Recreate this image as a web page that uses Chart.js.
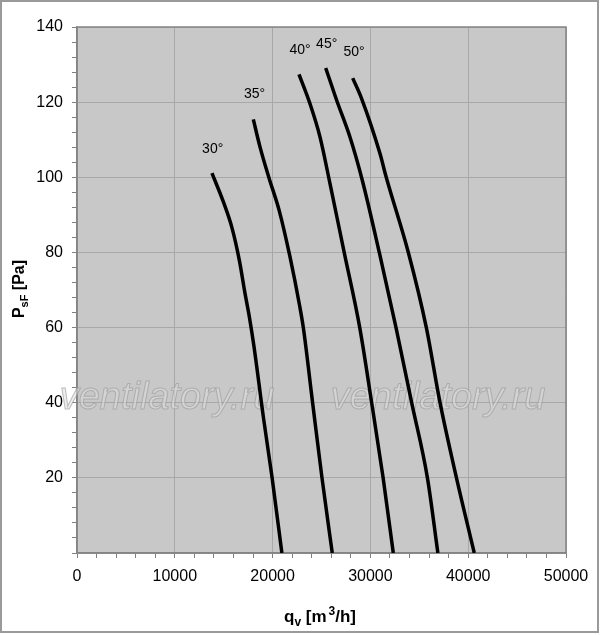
<!DOCTYPE html>
<html>
<head>
<meta charset="utf-8">
<script src="https://cdn.jsdelivr.net/npm/chart.js@4.4.0/dist/chart.umd.min.js"></script>
<style>
html, body { margin: 0; padding: 0; background: #fff; }
</style>
</head>
<body>
<canvas id="fanChart" width="600" height="635"></canvas>
<script>
// blade angle curves: qv [m3/h] vs PsF [Pa]
var angles = ['30°', '35°', '40°', '45°', '50°'];

var q30 = [13800, 14960, 15820, 16600, 17180, 17620, 18100, 19050, 19950, 20950];
var p30 = [101.1, 93.5, 86.8, 77.9, 69.1, 62.9, 54.9, 36.3, 20, 0];

var q35 = [18030, 18710, 19600, 20670, 21780, 22750, 23140, 24090, 25050, 26100];
var p35 = [115.4, 108.1, 100.1, 91.2, 78.8, 66, 60, 40, 20, 0];

var q40 = [22700, 23820, 24850, 25870, 27320, 28910, 30130, 31300, 32340];
var p40 = [127.4, 119.6, 110.7, 98.3, 80, 60, 40, 20, 0];

var q45 = [25430, 26550, 27910, 29170, 30910, 32620, 34220, 35830, 36900];
var p45 = [129.1, 120.5, 110.7, 99.2, 80, 60, 40, 20, 0];

var q50 = [28190, 29110, 30980, 31620, 33880, 35720, 37120, 38800, 40620];
var p50 = [126.4, 120.9, 106.3, 100, 80, 60, 40, 20, 0];

// where the angle labels sit (data units)
var labelQ = [13875, 18160, 22810, 25530, 28330];
var labelP = [107.6, 122.1, 133.8, 135.4, 133.2];

var qAll = [q30, q35, q40, q45, q50];
var pAll = [p30, p35, p40, p45, p50];

var datasets = [];
for (let i = 0; i < angles.length; i++) {
    let pts = [];
    for (let j = 0; j < qAll[i].length; j++) {
        pts.push({ x: qAll[i][j], y: pAll[i][j] });
    }
    datasets.push({
        label: angles[i],
        data: pts,
        showLine: true,
        borderColor: '#000',
        borderWidth: 3.5,
        pointRadius: 0,
        cubicInterpolationMode: 'monotone',
        fill: false
    });
}

// draws text made of pieces (sub / superscripts)
function richText(ctx, parts, x, y) {
    let total = 0;
    for (let p of parts) {
        ctx.font = 'bold ' + p[1] + 'px "Liberation Sans", Arial, sans-serif';
        p.w = ctx.measureText(p[0]).width + (p[3] || 0);
        total += p.w;
    }
    let cx = x - total / 2;
    ctx.textAlign = 'left';
    ctx.textBaseline = 'alphabetic';
    for (let p of parts) {
        ctx.font = 'bold ' + p[1] + 'px "Liberation Sans", Arial, sans-serif';
        ctx.fillText(p[0], cx, y + p[2]);
        cx += p.w;
    }
}

const decor = {
    id: 'decor',
    beforeDraw(chart) {
        const ctx = chart.ctx;
        const a = chart.chartArea;
        ctx.save();
        ctx.fillStyle = '#fff';
        ctx.fillRect(0, 0, chart.width, chart.height);
        ctx.fillStyle = '#c8c8c8';
        ctx.fillRect(a.left, a.top, a.right - a.left, a.bottom - a.top);
        ctx.restore();
    },
    beforeDatasetsDraw(chart) {
        const ctx = chart.ctx;
        const a = chart.chartArea;
        ctx.save();
        // plot frame
        ctx.strokeStyle = '#858585';
        ctx.lineWidth = 1.5;
        ctx.strokeRect(a.left, a.top, a.right - a.left, a.bottom - a.top);
        // watermark
        ctx.font = 'italic 38px "Liberation Sans", Arial, sans-serif';
        ctx.textAlign = 'center';
        ctx.textBaseline = 'alphabetic';
        ctx.fillStyle = 'rgba(222,222,222,0.55)';
        ctx.strokeStyle = 'rgba(150,150,150,0.6)';
        ctx.lineWidth = 1;
        ctx.fillText('ventilatory.ru', 167, 409);
        ctx.strokeText('ventilatory.ru', 167, 409);
        ctx.fillText('ventilatory.ru', 438, 409);
        ctx.strokeText('ventilatory.ru', 438, 409);
        ctx.restore();
    },
    afterDraw(chart) {
        const ctx = chart.ctx;
        const xs = chart.scales.x;
        const ys = chart.scales.y;
        ctx.save();
        // angle labels
        ctx.fillStyle = '#000';
        ctx.font = '14px "Liberation Sans", Arial, sans-serif';
        ctx.textAlign = 'center';
        ctx.textBaseline = 'middle';
        for (let i = 0; i < angles.length; i++) {
            ctx.fillText(angles[i], xs.getPixelForValue(labelQ[i]), ys.getPixelForValue(labelP[i]));
        }
        // x axis title
        richText(ctx, [['q', 17, 0], ['v', 12, 4], [' [m', 17, 0, 2], ['3', 12, -7], ['/h]', 17, 0]], 320, 622);
        // y axis title
        ctx.translate(24, 289);
        ctx.rotate(-Math.PI / 2);
        richText(ctx, [['P', 16, 0], ['sF', 11, 4], [' [Pa]', 16, 0]], 0, 0);
        ctx.restore();
        // outer frame
        ctx.save();
        ctx.strokeStyle = '#9a9a9a';
        ctx.lineWidth = 2;
        ctx.strokeRect(1, 1, 597, 631);
        ctx.restore();
    }
};

const chartEl = document.getElementById('fanChart');

new Chart(chartEl, {
    type: 'scatter',
    data: { datasets: datasets },
    options: {
        responsive: false,
        animation: false,
        layout: { padding: { top: 27, right: 34, left: 0, bottom: 0 } },
        plugins: {
            legend: { display: false },
            tooltip: { enabled: false }
        },
        scales: {
            x: {
                type: 'linear',
                min: 0,
                max: 50000,
                afterFit: function (scale) { scale.height = 82; },
                ticks: {
                    stepSize: 2000,
                    autoSkip: false,
                    maxTicksLimit: 100,
                    maxRotation: 0,
                    padding: 9,
                    color: '#000',
                    font: { family: '"Liberation Sans", Arial, sans-serif', size: 16 },
                    callback: function (v) { return v % 10000 === 0 ? String(v) : ''; }
                },
                grid: {
                    color: function (c) {
                        return c.tick && c.tick.value % 10000 === 0 ? '#a8a8a8' : 'rgba(0,0,0,0)';
                    },
                    tickColor: '#808080',
                    tickLength: 5,
                    lineWidth: 1
                },
                border: { color: '#858585', width: 1.5 }
            },
            y: {
                type: 'linear',
                min: 0,
                max: 140,
                afterFit: function (scale) { scale.width = 77; },
                ticks: {
                    stepSize: 4,
                    autoSkip: false,
                    maxTicksLimit: 100,
                    padding: 9,
                    color: '#000',
                    font: { family: '"Liberation Sans", Arial, sans-serif', size: 16 },
                    callback: function (v) { return (v % 20 === 0 && v > 0) ? String(v) : ''; }
                },
                grid: {
                    color: function (c) {
                        return c.tick && c.tick.value % 20 === 0 ? '#a8a8a8' : 'rgba(0,0,0,0)';
                    },
                    tickColor: '#808080',
                    tickLength: 5,
                    lineWidth: 1
                },
                border: { color: '#858585', width: 1.5 }
            }
        }
    },
    plugins: [decor]
});
</script>
</body>
</html>
